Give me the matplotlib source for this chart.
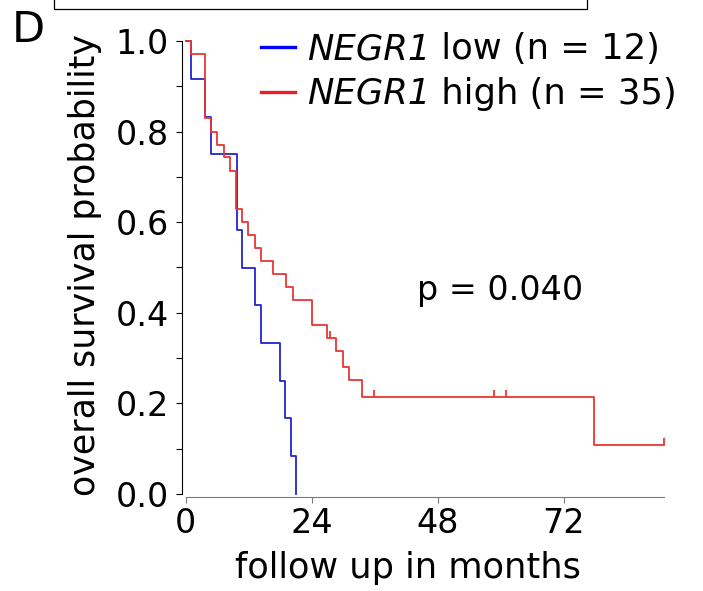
import numpy as np
import matplotlib
matplotlib.use("Agg")
import matplotlib.pyplot as plt
from matplotlib.lines import Line2D

plt.rcParams['font.family'] = ['DejaVu Sans']

# Kaplan-Meier steps (months, survival)
low_t = [0, 1.0, 3.7, 4.8, 9.7, 10.8, 13.2, 14.3, 18.0, 19.0, 20.0, 21.0]
low_s = [1.0, 0.917, 0.833, 0.750, 0.583, 0.500, 0.417, 0.333, 0.250, 0.167, 0.083, 0.0]

high_t = [0, 1.0, 3.7, 4.8, 5.9, 7.2, 8.4, 9.5, 10.8, 11.9, 13.2, 14.3, 16.7,
          19.1, 20.4, 24.0, 26.9, 28.6, 29.9, 31.1, 33.5, 77.8, 91.1]
high_s = [1.0, 0.971, 0.829, 0.800, 0.771, 0.743, 0.714, 0.629, 0.600, 0.571, 0.543,
          0.514, 0.486, 0.457, 0.429, 0.373, 0.344, 0.315, 0.280, 0.252, 0.215, 0.108, 0.108]
high_cens = [27.5, 35.9, 58.7, 61.1, 91.1]

gene = 'NEGR1'
low_label = ' low (n = 12)'
high_label = ' high (n = 35)'
p_text = 'p = 0.040'
xticks = [0, 24, 48, 72]
yticks = [0.0, 0.2, 0.4, 0.6, 0.8, 1.0]

W, H = 703, 591
fig = plt.figure(figsize=(W / 100, H / 100), dpi=100)
ax = fig.add_axes([185.7 / W, 97 / H, 478.3 / W, 453 / H])

blue = '#2323d0'
red = '#ec3535'
ax.plot(low_t, low_s, drawstyle='steps-post', color=blue, lw=1.3, clip_on=False)
ax.plot(high_t, high_s, drawstyle='steps-post', color=red, lw=1.3, clip_on=False)

# censor ticks
def level(t, ts, ss):
    i = np.searchsorted(ts, t, side='right') - 1
    return ss[i]

cs = np.array([level(t, high_t, high_s) for t in high_cens])
ax.vlines(high_cens, cs, cs + 0.015, color=red, lw=1.3, clip_on=False)

ax.set_xlim(0, 91.1)
ax.set_ylim(0, 1)
ax.set_xticks(xticks)
ax.set_yticks(yticks)
ax.set_yticks(np.arange(0.1, 1.0, 0.2), minor=True)

for s in ['top', 'right']:
    ax.spines[s].set_visible(False)
ax.spines['left'].set_position(('outward', 2.9))
ax.spines['left'].set_bounds(0, 1)
ax.spines['left'].set_linewidth(0.8)
ax.spines['bottom'].set_position(('outward', 2.4))
ax.spines['bottom'].set_bounds(0, 91.1)
ax.spines['bottom'].set_color('#7a7a7a')
ax.spines['bottom'].set_linewidth(0.8)

ax.tick_params(axis='y', which='both', length=4.3, width=0.8, color='black',
               labelsize=24, pad=5)
ax.tick_params(axis='x', length=4.3, width=0.8, color='#7a7a7a',
               labelsize=24, pad=3)

ax.set_xlabel('follow up in months', fontsize=25.3)
ax.xaxis.set_label_coords(0.465, -0.163)
ax.xaxis.label.set_va('center')
ax.set_ylabel('overall survival probability', fontsize=25)
ax.yaxis.set_label_coords(-0.2105, 0.5055)
ax.yaxis.label.set_va('center')

ax.text(59.9, 0.45, p_text, fontsize=24, ha='center', va='center')

# legend, drawn by hand so the gene name can be italic
fig.canvas.draw()
r = fig.canvas.get_renderer()
for ypix, c, lab in [(47, '#0000ff', low_label), (92, '#ee1c24', high_label)]:
    fig.add_artist(Line2D([261 / W, 295 / W], [1 - ypix / H] * 2, color=c, lw=2.4))
    t1 = fig.text(307 / W, 1 - (ypix + 12) / H, gene, fontsize=25.5,
                  style='italic', va='baseline')
    x1 = t1.get_window_extent(r).x1 / W
    fig.text(x1, 1 - (ypix + 12) / H, lab, fontsize=25.5, va='baseline')

fig.text(12 / W, 1 - 30 / H, 'D', fontsize=31, va='center', ha='left')

# edge of the panel above
fig.add_artist(Line2D([54.3 / W, 54.3 / W, 587 / W, 587 / W],
                      [1, 1 - 9 / H, 1 - 9 / H, 1], color='black', lw=0.9))

fig.savefig('out.png', dpi=100)
